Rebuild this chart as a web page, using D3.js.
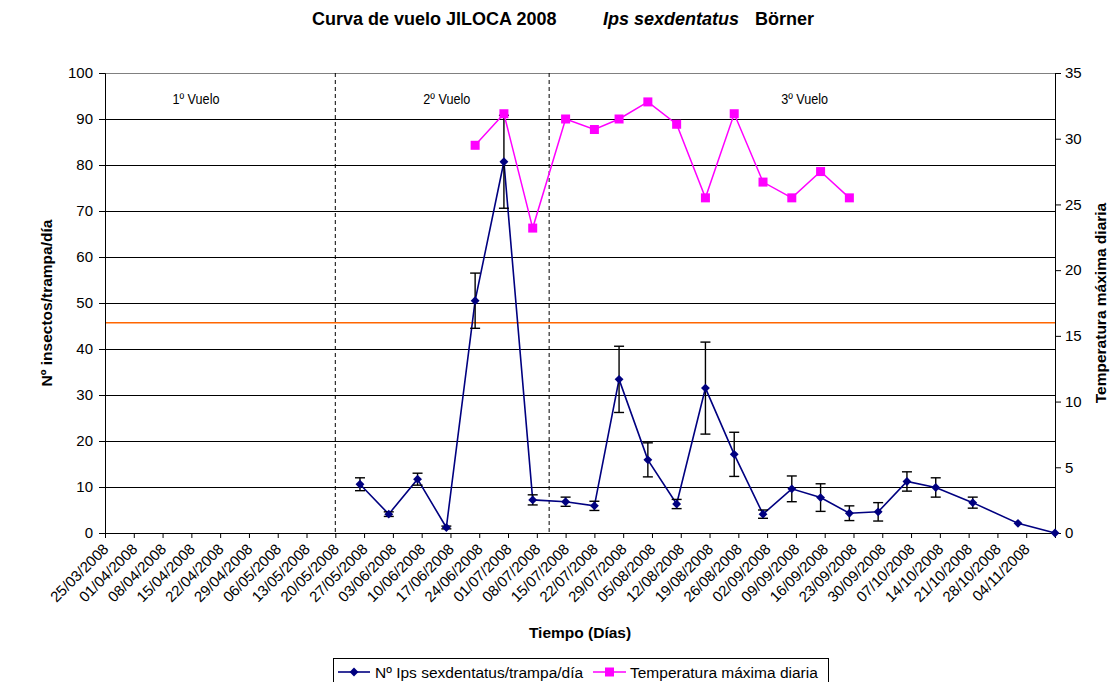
<!DOCTYPE html>
<html>
<head>
<meta charset="utf-8">
<script src="https://cdn.jsdelivr.net/npm/d3@7"></script>
<style>
  body { margin: 0; background: #fff; }
  svg text { font-family: "Liberation Sans", Arial, sans-serif; }
</style>
</head>
<body>
<svg id="chart" width="1112" height="682"></svg>
<script>
// fechas de muestreo
const fechas = ['26/05/2008', '02/06/2008', '09/06/2008', '16/06/2008', '23/06/2008', '30/06/2008',
  '07/07/2008', '15/07/2008', '22/07/2008', '28/07/2008', '04/08/2008', '11/08/2008', '18/08/2008',
  '25/08/2008', '01/09/2008', '08/09/2008', '15/09/2008', '22/09/2008', '29/09/2008', '06/10/2008',
  '13/10/2008', '22/10/2008', '02/11/2008', '11/11/2008'];
const insectos = [10.6, 4.1, 11.7, 1.2, 50.5, 80.7, 7.2, 6.8, 5.9, 33.4, 15.9, 6.3,
  31.5, 17.1, 4.1, 9.6, 7.7, 4.3, 4.6, 11.2, 9.9, 6.6, 2.1, 0];
const errores = [1.4, 0.5, 1.3, 0.3, 6, 10.1, 1.1, 1, 1, 7.2, 3.7, 1,
  10, 4.8, 0.9, 2.8, 3, 1.6, 2, 2.1, 2.1, 1.2, 0, 0];

// temperatura máxima (desde 23/06 hasta 22/09)
const fechasTemp = ['23/06/2008', '30/06/2008', '07/07/2008', '15/07/2008', '22/07/2008', '28/07/2008',
  '04/08/2008', '11/08/2008', '18/08/2008', '25/08/2008', '01/09/2008', '08/09/2008', '15/09/2008', '22/09/2008'];
const temperatura = [29.5, 31.9, 23.2, 31.5, 30.7, 31.5, 32.8, 31.1, 25.5, 31.9, 26.7, 25.5, 27.5, 25.5];

const umbral = 16;
const limitesVuelo = ['20/05/2008', '11/07/2008'];
const vuelos = [
  { label: '1º Vuelo', fecha: '16/04/2008' },
  { label: '2º Vuelo', fecha: '16/06/2008' },
  { label: '3º Vuelo', fecha: '11/09/2008' }
];

const tickLabels = ['25/03/2008', '01/04/2008', '08/04/2008', '15/04/2008', '22/04/2008', '29/04/2008',
  '06/05/2008', '13/05/2008', '20/05/2008', '27/05/2008', '03/06/2008', '10/06/2008', '17/06/2008',
  '24/06/2008', '01/07/2008', '08/07/2008', '15/07/2008', '22/07/2008', '29/07/2008', '05/08/2008',
  '12/08/2008', '19/08/2008', '26/08/2008', '02/09/2008', '09/09/2008', '16/09/2008', '23/09/2008',
  '30/09/2008', '07/10/2008', '14/10/2008', '21/10/2008', '28/10/2008', '04/11/2008'];
const finEje = '11/11/2008';

const parse = d3.timeParse('%d/%m/%Y');

const mLeft = 105, mRight = 1055, mTop = 73, mBottom = 533;
const svg = d3.select('#chart');

const x = d3.scaleTime()
  .domain([parse(tickLabels[0]), parse(finEje)])
  .range([mLeft, mRight]);
const y = d3.scaleLinear().domain([0, 100]).range([mBottom, mTop]);
const y2 = d3.scaleLinear().domain([0, 35]).range([mBottom, mTop]);

// gridlines
svg.append('g')
  .selectAll('line')
  .data(d3.range(10, 100, 10))
  .enter()
  .append('line')
  .attr('x1', mLeft).attr('x2', mRight)
  .attr('y1', d => y(d)).attr('y2', d => y(d))
  .attr('stroke', '#000').attr('stroke-width', 1).attr('shape-rendering', 'crispEdges');

svg.append('line')
  .attr('x1', mLeft).attr('x2', mRight)
  .attr('y1', mTop).attr('y2', mTop)
  .attr('stroke', '#808080').attr('shape-rendering', 'crispEdges');

// umbral
svg.append('line')
  .attr('x1', mLeft).attr('x2', mRight)
  .attr('y1', y2(umbral)).attr('y2', y2(umbral))
  .attr('stroke', '#ff6600').attr('stroke-width', 1.5);

// limites de vuelo
svg.selectAll('.limite')
  .data(limitesVuelo)
  .enter()
  .append('line')
  .attr('x1', d => x(parse(d))).attr('x2', d => x(parse(d)))
  .attr('y1', mTop).attr('y2', mBottom)
  .attr('stroke', '#000').attr('stroke-dasharray', '4,3');

svg.selectAll('.vuelo')
  .data(vuelos)
  .enter()
  .append('text')
  .attr('x', d => x(parse(d.fecha)) - 23)
  .attr('y', 104)
  .style('font-size', '14px')
  .attr('textLength', 47)
  .attr('lengthAdjust', 'spacingAndGlyphs')
  .text(d => d.label);

// ejes
const xAxis = d3.axisBottom(x)
  .tickValues(tickLabels.map(parse).concat([parse(finEje)]))
  .tickSize(5)
  .tickFormat((d, i) => tickLabels[i] || '');
const gx = svg.append('g').attr('transform', `translate(0,${mBottom})`).call(xAxis);
gx.select('.domain').attr('stroke', '#000');
gx.selectAll('text')
  .style('font-size', '15px')
  .attr('text-anchor', 'end')
  .attr('dy', null).attr('y', null)
  .attr('transform', 'translate(4,17) rotate(-45)');

const gy = svg.append('g').attr('transform', `translate(${mLeft},0)`)
  .call(d3.axisLeft(y).ticks(10).tickSize(6).tickPadding(6));
gy.selectAll('text').style('font-size', '15px');

const gy2 = svg.append('g').attr('transform', `translate(${mRight},0)`)
  .call(d3.axisRight(y2).ticks(7).tickSize(6).tickPadding(4));
gy2.selectAll('text').style('font-size', '15px');
[gy, gy2].forEach(g => g.select('.domain').attr('stroke', '#000'));

// serie insectos
const ins = fechas.map((f, i) => ({ date: parse(f), v: insectos[i], e: errores[i] }));
svg.append('path')
  .datum(ins)
  .attr('fill', 'none')
  .attr('stroke', '#000080')
  .attr('stroke-width', 1.6)
  .attr('d', d3.line().x(d => x(d.date)).y(d => y(d.v)));

const err = svg.append('g').attr('stroke', '#000').attr('stroke-width', 1.4);
ins.filter(d => d.e > 0).forEach(d => {
  const cx = x(d.date);
  err.append('line').attr('x1', cx).attr('x2', cx).attr('y1', y(d.v + d.e)).attr('y2', y(d.v - d.e));
  err.append('line').attr('x1', cx - 5).attr('x2', cx + 5).attr('y1', y(d.v + d.e)).attr('y2', y(d.v + d.e));
  err.append('line').attr('x1', cx - 5).attr('x2', cx + 5).attr('y1', y(d.v - d.e)).attr('y2', y(d.v - d.e));
});

const diamond = d3.symbol().type(d3.symbolDiamond2).size(50);
svg.selectAll('.rombo')
  .data(ins)
  .enter()
  .append('path')
  .attr('d', diamond)
  .attr('transform', d => `translate(${x(d.date)},${y(d.v)})`)
  .attr('fill', '#000080');

// serie temperatura
const temp = fechasTemp.map((f, i) => ({ date: parse(f), v: temperatura[i] }));
svg.append('path')
  .datum(temp)
  .attr('fill', 'none')
  .attr('stroke', '#ff00ff')
  .attr('stroke-width', 1.5)
  .attr('d', d3.line().x(d => x(d.date)).y(d => y2(d.v)));

svg.selectAll('.cuadro')
  .data(temp)
  .enter()
  .append('rect')
  .attr('x', d => x(d.date) - 4.5)
  .attr('y', d => y2(d.v) - 4.5)
  .attr('width', 9).attr('height', 9)
  .attr('fill', '#ff00ff');

// titulos
const title = svg.append('text')
  .attr('x', 312).attr('y', 25)
  .style('font-size', '18px')
  .style('font-weight', 'bold');
title.append('tspan').text('Curva de vuelo JILOCA 2008');
title.append('tspan').attr('x', 603).style('font-style', 'italic').text('Ips sexdentatus');
title.append('tspan').attr('x', 755).text('Börner');

svg.append('text')
  .attr('transform', `translate(52,${(mTop + mBottom) / 2}) rotate(-90)`)
  .attr('text-anchor', 'middle')
  .style('font-size', '15.5px').style('font-weight', 'bold')
  .text('Nº insectos/trampa/día');

svg.append('text')
  .attr('transform', `translate(1106,${(mTop + mBottom) / 2}) rotate(-90)`)
  .attr('text-anchor', 'middle')
  .style('font-size', '15.5px').style('font-weight', 'bold')
  .text('Temperatura máxima diaria');

svg.append('text')
  .attr('x', 580).attr('y', 638)
  .attr('text-anchor', 'middle')
  .style('font-size', '15.5px').style('font-weight', 'bold')
  .text('Tiempo (Días)');

// leyenda
const legend = svg.append('g');
legend.append('rect')
  .attr('x', 333.5).attr('y', 658.5)
  .attr('width', 495).attr('height', 30)
  .attr('fill', 'none').attr('stroke', '#000');

legend.append('line').attr('x1', 338).attr('x2', 370).attr('y1', 672).attr('y2', 672)
  .attr('stroke', '#000080').attr('stroke-width', 1.6);
legend.append('path').attr('d', diamond).attr('transform', 'translate(354,672)').attr('fill', '#000080');
legend.append('text').attr('x', 375).attr('y', 678).style('font-size', '15.5px')
  .text('Nº Ips sexdentatus/trampa/día');

legend.append('line').attr('x1', 593).attr('x2', 626).attr('y1', 672).attr('y2', 672)
  .attr('stroke', '#ff00ff').attr('stroke-width', 1.5);
legend.append('rect').attr('x', 605).attr('y', 667.5).attr('width', 9).attr('height', 9).attr('fill', '#ff00ff');
legend.append('text').attr('x', 630).attr('y', 678).style('font-size', '15.5px')
  .text('Temperatura máxima diaria');
</script>
</body>
</html>
